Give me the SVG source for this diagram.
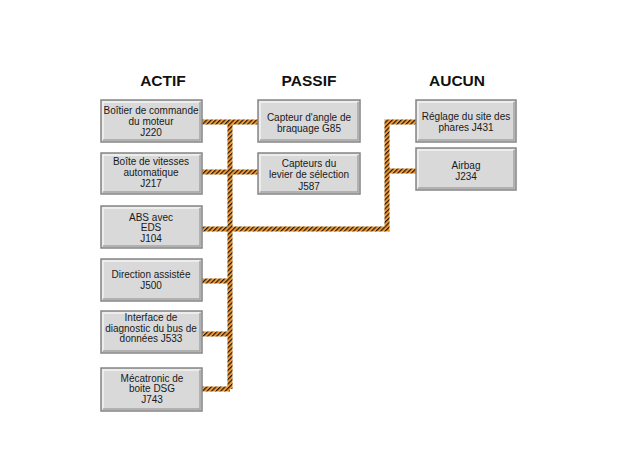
<svg xmlns="http://www.w3.org/2000/svg" width="624" height="468" viewBox="0 0 624 468">
<style>
.box{fill:#d9d9d9;stroke:#858585;stroke-width:1.5}
.hl{fill:none;stroke:#f4f4f4;stroke-width:1.5}
.sh{fill:none;stroke:#a4a4a4;stroke-width:1.5}
.t{font-family:"Liberation Sans",Arial,sans-serif;font-size:10px;fill:#1a1a1a;text-anchor:middle}
.h{font-family:"Liberation Sans",Arial,sans-serif;font-size:15.5px;font-weight:bold;fill:#111;text-anchor:middle}
.bus{fill:none;stroke:url(#stripe);stroke-width:5;stroke-linejoin:miter;stroke-linecap:butt}
</style>
<defs>
<pattern id="stripe" width="3.2" height="3.2" patternUnits="userSpaceOnUse" patternTransform="rotate(45)">
<rect width="3.2" height="3.2" fill="#f59a2e"/>
<rect width="1.2" height="3.2" fill="#1a1a1a"/>
</pattern>
</defs>
<rect width="624" height="468" fill="#fff"/>
<g id="headers">
<text class="h" x="163" y="86">ACTIF</text>
<text class="h" x="309" y="86">PASSIF</text>
<text class="h" x="457" y="86">AUCUN</text>
</g>
<g id="connectors">
<polyline class="bus" points="230,122 230,389"/>
<polyline class="bus" points="202,122 258,122"/>
<polyline class="bus" points="202,172 258,172"/>
<polyline class="bus" points="202,229 387,229 387,122 416,122"/>
<polyline class="bus" points="387,171 416,171"/>
<polyline class="bus" points="202,281 230,281"/>
<polyline class="bus" points="202,334 230,334"/>
<polyline class="bus" points="202,389 230,389"/>
</g>
<g id="n1">
<rect class="box" x="101" y="100" width="101" height="42"/>
<polyline class="hl" points="103,140 103,102 200,102"/><polyline class="sh" points="103,140 200,140 200,102"/>
<text class="t" x="151" y="113.5">Boîtier de commande</text><text class="t" x="151" y="125">du moteur</text><text class="t" x="151" y="136">J220</text>
</g>
<g id="n2">
<rect class="box" x="101" y="153" width="101" height="41"/>
<polyline class="hl" points="103,192 103,155 200,155"/><polyline class="sh" points="103,192 200,192 200,155"/>
<text class="t" x="151" y="164.5">Boîte de vitesses</text><text class="t" x="151" y="175.5">automatique</text><text class="t" x="151" y="186.5">J217</text>
</g>
<g id="n3">
<rect class="box" x="101" y="206" width="101" height="42"/>
<polyline class="hl" points="103,246 103,208 200,208"/><polyline class="sh" points="103,246 200,246 200,208"/>
<text class="t" x="151" y="220.5">ABS avec</text><text class="t" x="151" y="231">EDS</text><text class="t" x="151" y="241.5">J104</text>
</g>
<g id="n4">
<rect class="box" x="101" y="259" width="101" height="42"/>
<polyline class="hl" points="103,299 103,261 200,261"/><polyline class="sh" points="103,299 200,299 200,261"/>
<text class="t" x="151" y="277.5">Direction assistée</text><text class="t" x="151" y="288.5">J500</text>
</g>
<g id="n5">
<rect class="box" x="101" y="311" width="101" height="42"/>
<polyline class="hl" points="103,351 103,313 200,313"/><polyline class="sh" points="103,351 200,351 200,313"/>
<text class="t" x="151" y="320.5">Interface de</text><text class="t" x="151" y="331.5">diagnostic du bus de</text><text class="t" x="151" y="342">données J533</text>
</g>
<g id="n6">
<rect class="box" x="101" y="368" width="101" height="43"/>
<polyline class="hl" points="103,409 103,370 200,370"/><polyline class="sh" points="103,409 200,409 200,370"/>
<text class="t" x="152" y="381.5">Mécatronic de</text><text class="t" x="152" y="392">boite DSG</text><text class="t" x="152" y="402.5">J743</text>
</g>
<g id="p1">
<rect class="box" x="258" y="100" width="102" height="42"/>
<polyline class="hl" points="260,140 260,102 358,102"/><polyline class="sh" points="260,140 358,140 358,102"/>
<text class="t" x="309" y="120.5">Capteur d'angle de</text><text class="t" x="309" y="131.5">braquage G85</text>
</g>
<g id="p2">
<rect class="box" x="258" y="153" width="102" height="41"/>
<polyline class="hl" points="260,192 260,155 358,155"/><polyline class="sh" points="260,192 358,192 358,155"/>
<text class="t" x="309" y="166.5">Capteurs du</text><text class="t" x="309" y="178">levier de sélection</text><text class="t" x="309" y="189.5">J587</text>
</g>
<g id="a1">
<rect class="box" x="416" y="100" width="100" height="42"/>
<polyline class="hl" points="418,140 418,102 514,102"/><polyline class="sh" points="418,140 514,140 514,102"/>
<text class="t" x="466" y="119.5">Réglage du site des</text><text class="t" x="466" y="130.5">phares J431</text>
</g>
<g id="a2">
<rect class="box" x="416" y="148" width="100" height="42"/>
<polyline class="hl" points="418,188 418,150 514,150"/><polyline class="sh" points="418,188 514,188 514,150"/>
<text class="t" x="466" y="168.5">Airbag</text><text class="t" x="466" y="180">J234</text>
</g>
</svg>
